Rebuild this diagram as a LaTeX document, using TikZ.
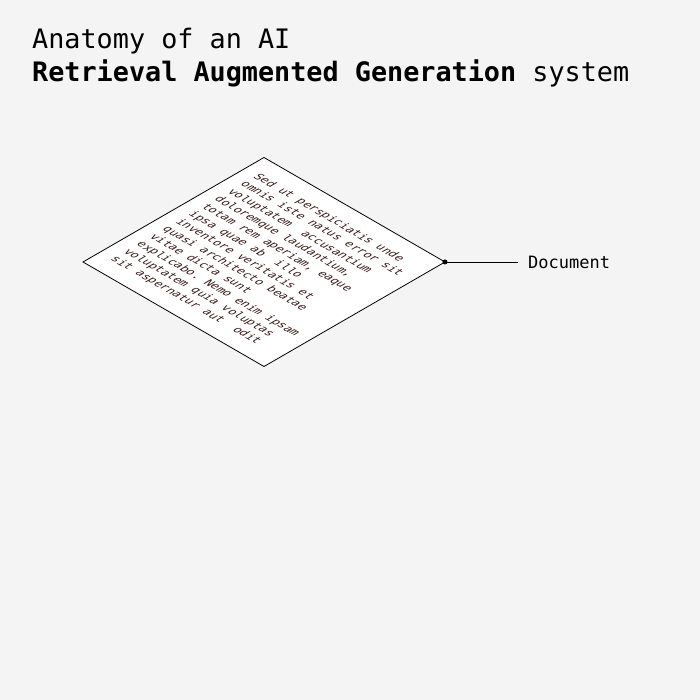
\documentclass[tikz,border=0pt]{standalone}
\usepackage{fontspec}
\setmonofont{DejaVu Sans Mono}
\definecolor{bg}{HTML}{F4F4F4}
\definecolor{doctext}{HTML}{3A1C1C}
\begin{document}
\begin{tikzpicture}[x=1pt,y=1pt,
  titlefont/.style={font=\fontsize{26.8pt}{32pt}\selectfont\ttfamily},
  docbox/.style={draw=black, line width=0.8pt, fill=white, minimum size=209pt, inner sep=0pt, outer sep=0pt},
  doctxt/.style={font=\fontsize{11.7pt}{15pt}\selectfont\ttfamily, text=doctext, align=left, inner sep=0pt},
  lblfont/.style={font=\fontsize{17pt}{20pt}\selectfont\ttfamily, inner sep=0pt}]
\fill[bg] (0,0) rectangle (700,700);
\useasboundingbox (0,0) rectangle (700,700);
\node[titlefont, anchor=base west, inner sep=0pt] (t1) at (32,651) {Anatomy of an AI};
\node[titlefont, anchor=base west, inner sep=0pt] (t2) at (32,618) {\textbf{Retrieval Augmented Generation} system};
\begin{scope}[cm={0.866,-0.5,0.866,0.5,(83pt,438pt)}, transform shape]
  \node[docbox] (doc) at (104.5,104.5) {};
  \node[doctxt, anchor=north west] (body) at (13,191.9) {Sed ut perspiciatis unde\\
omnis iste natus error sit\\
voluptatem~ accusantium\\
doloremque laudantium,\\
totam rem aperiam, eaque\\
ipsa quae ab~ illo\\
inventore veritatis et\\
quasi architecto beatae\\
vitae dicta sunt\\
explicabo. Nemo enim ipsam\\
voluptatem quia voluptas\\
sit aspernatur aut~ odit};
\end{scope}
\node[lblfont, anchor=west] (lbl) at (528,438) {Document};
\coordinate (lend) at (518,438);
\draw[line width=0.8pt] (doc.north east) -- (lend);
\fill (doc.north east) circle (2.5pt);
\end{tikzpicture}
\end{document}
